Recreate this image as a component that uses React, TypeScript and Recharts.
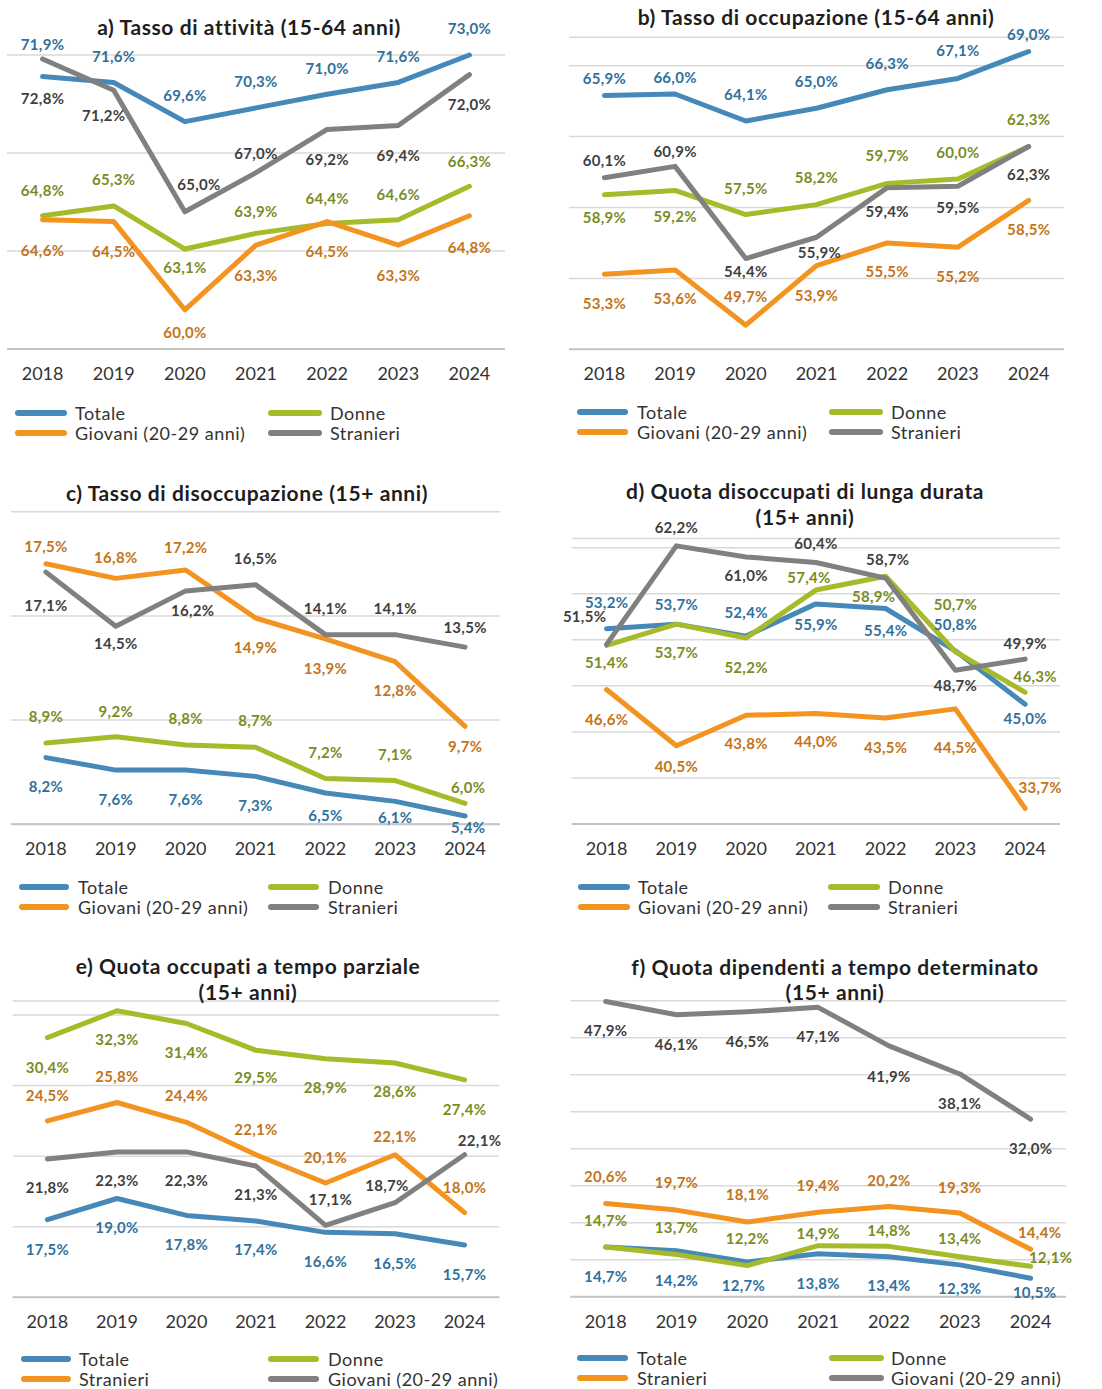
import React from 'react';
import { LineChart, Line, XAxis, YAxis, CartesianGrid, LabelList } from 'recharts';

const FONT = "Lato, 'Open Sans', sans-serif";

const years = ['2018', '2019', '2020', '2021', '2022', '2023', '2024'];

// a) Tasso di attività (15-64 anni)
const aTotale = [71.9, 71.6, 69.6, 70.3, 71.0, 71.6, 73.0];
const aDonne = [64.8, 65.3, 63.1, 63.9, 64.4, 64.6, 66.3];
const aGiovani = [64.6, 64.5, 60.0, 63.3, 64.5, 63.3, 64.8];
const aStranieri = [72.8, 71.2, 65.0, 67.0, 69.2, 69.4, 72.0];
const aTicks = [58, 63, 68, 73];

// b) Tasso di occupazione (15-64 anni)
const bTotale = [65.9, 66.0, 64.1, 65.0, 66.3, 67.1, 69.0];
const bDonne = [58.9, 59.2, 57.5, 58.2, 59.7, 60.0, 62.3];
const bGiovani = [53.3, 53.6, 49.7, 53.9, 55.5, 55.2, 58.5];
const bStranieri = [60.1, 60.9, 54.4, 55.9, 59.4, 59.5, 62.3];
const bTicks = [48, 53, 58, 63, 68];

// c) Tasso di disoccupazione (15+ anni)
const cTotale = [8.2, 7.6, 7.6, 7.3, 6.5, 6.1, 5.4];
const cDonne = [8.9, 9.2, 8.8, 8.7, 7.2, 7.1, 6.0];
const cGiovani = [17.5, 16.8, 17.2, 14.9, 13.9, 12.8, 9.7];
const cStranieri = [17.1, 14.5, 16.2, 16.5, 14.1, 14.1, 13.5];
const cTicks = [5, 10, 15, 20];

// d) Quota disoccupati di lunga durata (15+ anni)
const dTotale = [53.2, 53.7, 52.4, 55.9, 55.4, 50.8, 45.0];
const dDonne = [51.4, 53.7, 52.2, 57.4, 58.9, 50.7, 46.3];
const dGiovani = [46.6, 40.5, 43.8, 44.0, 43.5, 44.5, 33.7];
const dStranieri = [51.5, 62.2, 61.0, 60.4, 58.7, 48.7, 49.9];
const dTicks = [32, 37, 42, 47, 52, 57, 62];

// e) Quota occupati a tempo parziale (15+ anni)
const eTotale = [17.5, 19.0, 17.8, 17.4, 16.6, 16.5, 15.7];
const eDonne = [30.4, 32.3, 31.4, 29.5, 28.9, 28.6, 27.4];
const eStranieri = [24.5, 25.8, 24.4, 22.1, 20.1, 22.1, 18.0];
const eGiovani = [21.8, 22.3, 22.3, 21.3, 17.1, 18.7, 22.1];
const eTicks = [12, 17, 22, 27, 32];

// f) Quota dipendenti a tempo determinato (15+ anni)
const fTotale = [14.7, 14.2, 12.7, 13.8, 13.4, 12.3, 10.5];
const fDonne = [14.7, 13.7, 12.2, 14.9, 14.8, 13.4, 12.1];
const fStranieri = [20.6, 19.7, 18.1, 19.4, 20.2, 19.3, 14.4];
const fGiovani = [47.9, 46.1, 46.5, 47.1, 41.9, 38.1, 32.0];
const fTicks = [8, 13, 18, 23, 28, 33, 38, 43, 48];

// colours
const BLUE = '#4689B8';
const GREEN = '#A6BA2A';
const ORANGE = '#F39320';
const GRAY = '#808080';
const BLUE_L = '#31709C';
const GREEN_L = '#7A8C1F';
const ORANGE_L = '#C2741A';
const GRAY_L = '#3F3F3F';

type Series = {
  name: string;
  values: number[];
  color: string;
  labelColor: string;
  dy: number[];
  dx?: number[];
};

type Panel = {
  left: number;
  top: number;
  plotLeft: number;
  plotRight: number;
  plotTop: number;
  plotBottom: number;
  domain: [number, number];
  ticks: number[];
  title: string[];
  titleX: number;
  titleY: number[];
  series: Series[];
  legend: Series[][];
  legRows: number[];
  legCol1: [number, number, number];
  legCol2: [number, number, number];
};

const fmt = (v: number) => v.toFixed(1).replace('.', ',') + '%';

const mk = (name: string, values: number[], color: string, labelColor: string, dy: number[], dx?: number[]): Series => ({
  name, values, color, labelColor, dy, dx,
});

const sA = {
  tot: mk('Totale', aTotale, BLUE, BLUE_L, [-33, -26, -27, -27, -26, -26, -27]),
  don: mk('Donne', aDonne, GREEN, GREEN_L, [-26, -27, 18, -22, -26, -26, -25]),
  gio: mk('Giovani (20-29 anni)', aGiovani, ORANGE, ORANGE_L, [30, 29, 22, 30, 29, 30, 31]),
  str: mk('Stranieri', aStranieri, GRAY, GRAY_L, [39, 25, -28, -20, 30, 29, 29], [0, -10, 14, 0, 0, 0, 0]),
};
const sB = {
  tot: mk('Totale', bTotale, BLUE, BLUE_L, [-17, -17, -27, -27, -27, -28, -17]),
  don: mk('Donne', bDonne, GREEN, GREEN_L, [22, 26, -27, -28, -28, -27, -27]),
  gio: mk('Giovani (20-29 anni)', bGiovani, ORANGE, ORANGE_L, [29, 28, -29, 29, 28, 29, 29]),
  str: mk('Stranieri', bStranieri, GRAY, GRAY_L, [-18, -15, 12, 15, 23, 21, 28], [0, 0, 0, 3, 0, 0, 0]),
};
const sC = {
  tot: mk('Totale', cTotale, BLUE, BLUE_L, [28, 29, 29, 29, 22, 16, 11], [0, 0, 0, 0, 0, 0, 3]),
  don: mk('Donne', cDonne, GREEN, GREEN_L, [-27, -26, -27, -27, -26, -27, -16], [0, 0, 0, 0, 0, 0, 3]),
  gio: mk('Giovani (20-29 anni)', cGiovani, ORANGE, ORANGE_L, [-18, -21, -23, 29, 29, 28, 20]),
  str: mk('Stranieri', cStranieri, GRAY, GRAY_L, [33, 17, 19, -27, -27, -27, -20], [0, 0, 7, 0, 0, 0, 0]),
};
const sD = {
  tot: mk('Totale', dTotale, BLUE, BLUE_L, [-27, -20, -24, 20, 22, -27, 14]),
  don: mk('Donne', dDonne, GREEN, GREEN_L, [17, 28, 29, -13, 20, -48, -16], [0, 0, 0, -7, -12, 0, 10]),
  gio: mk('Giovani (20-29 anni)', dGiovani, ORANGE, ORANGE_L, [29, 20, 28, 28, 29, 38, -21], [0, 0, 0, 0, 0, 0, 15]),
  str: mk('Stranieri', dStranieri, GRAY, GRAY_L, [-28, -19, 18, -19, -19, 15, -16], [-22, 0, 0, 0, 2, 0, 0]),
};
const sE = {
  tot: mk('Totale', eTotale, BLUE, BLUE_L, [29, 29, 29, 28, 29, 29, 29]),
  don: mk('Donne', eDonne, GREEN, GREEN_L, [29, 28, 29, 27, 28, 28, 29]),
  str: mk('Stranieri', eStranieri, ORANGE, ORANGE_L, [-26, -27, -27, -26, -26, -19, -26]),
  gio: mk('Giovani (20-29 anni)', eGiovani, GRAY, GRAY_L, [28, 28, 28, 28, -26, -18, -15], [0, 0, 0, 0, 5, -8, 15]),
};
const sF = {
  tot: mk('Totale', fTotale, BLUE, BLUE_L, [29, 29, 23, 29, 28, 23, 14], [0, 0, -4, 0, 0, 0, 4]),
  don: mk('Donne', fDonne, GREEN, GREEN_L, [-27, -28, -28, -13, -16, -19, -9], [0, 0, 0, 0, 0, 0, 20]),
  str: mk('Stranieri', fStranieri, ORANGE, ORANGE_L, [-27, -28, -28, -27, -26, -26, -17], [0, 0, 0, 0, 0, 0, 9]),
  gio: mk('Giovani (20-29 anni)', fGiovani, GRAY, GRAY_L, [29, 29, 29, 29, 30, 29, 29]),
};

const panels: Panel[] = [
  {
    left: 0, top: 0, plotLeft: 7, plotRight: 505, plotTop: 55, plotBottom: 349,
    domain: [58, 73], ticks: aTicks,
    title: ['a) Tasso di attività (15-64 anni)'], titleX: 249, titleY: [27],
    series: [sA.tot, sA.don, sA.gio, sA.str],
    legend: [[sA.tot, sA.don], [sA.gio, sA.str]],
    legRows: [413, 433], legCol1: [15, 67, 75], legCol2: [268, 322, 330],
  },
  {
    left: 551, top: 0, plotLeft: 18, plotRight: 513, plotTop: 37.3, plotBottom: 349.3,
    domain: [48, 70], ticks: bTicks,
    title: ['b) Tasso di occupazione (15-64 anni)'], titleX: 816, titleY: [17],
    series: [sB.tot, sB.don, sB.gio, sB.str],
    legend: [[sB.tot, sB.don], [sB.gio, sB.str]],
    legRows: [412, 432], legCol1: [577, 628, 637], legCol2: [829, 883, 891],
  },
  {
    left: 0, top: 470, plotLeft: 11, plotRight: 500, plotTop: 41.7, plotBottom: 354.3,
    domain: [5, 20], ticks: cTicks,
    title: ['c) Tasso di disoccupazione (15+ anni)'], titleX: 247, titleY: [493],
    series: [sC.tot, sC.don, sC.gio, sC.str],
    legend: [[sC.tot, sC.don], [sC.gio, sC.str]],
    legRows: [887, 907], legCol1: [19, 69, 78], legCol2: [268, 319, 328],
  },
  {
    left: 551, top: 470, plotLeft: 20.7, plotRight: 509, plotTop: 68.5, plotBottom: 354,
    domain: [32, 63], ticks: dTicks,
    title: ['d) Quota disoccupati di lunga durata', '(15+ anni)'], titleX: 805, titleY: [491, 517],
    series: [sD.tot, sD.don, sD.gio, sD.str],
    legend: [[sD.tot, sD.don], [sD.gio, sD.str]],
    legRows: [887, 907], legCol1: [578, 630, 638], legCol2: [828, 880, 888],
  },
  {
    left: 0, top: 940, plotLeft: 12.7, plotRight: 499.3, plotTop: 60.9, plotBottom: 357.3,
    domain: [12, 33], ticks: eTicks,
    title: ['e) Quota occupati a tempo parziale', '(15+ anni)'], titleX: 248, titleY: [966, 992],
    series: [sE.tot, sE.don, sE.str, sE.gio],
    legend: [[sE.tot, sE.don], [sE.str, sE.gio]],
    legRows: [1359, 1379], legCol1: [21, 71, 79], legCol2: [268, 319, 328],
  },
  {
    left: 551, top: 940, plotLeft: 19.3, plotRight: 515, plotTop: 60.7, plotBottom: 356.7,
    domain: [8, 48], ticks: fTicks,
    title: ['f) Quota dipendenti a tempo determinato', '(15+ anni)'], titleX: 835, titleY: [967, 992],
    series: [sF.tot, sF.don, sF.str, sF.gio],
    legend: [[sF.tot, sF.don], [sF.str, sF.gio]],
    legRows: [1358, 1378], legCol1: [577, 628, 637], legCol2: [829, 884, 891],
  },
];

const PANEL_W = 551;
const XAXIS_H = 50;

function makeLabel(s: Series) {
  return (props: any) => {
    const { x, y, value, index } = props;
    if (x == null || y == null || value == null) return null;
    const dx = s.dx ? s.dx[index] : 0;
    const dy = s.dy[index];
    return (
      <text
        key={`l-${index}`}
        x={Number(x) + dx}
        y={Number(y) + dy}
        textAnchor="middle"
        dominantBaseline="central"
        fill={s.labelColor}
        fontSize={15}
        fontWeight={700}
        letterSpacing={0.3}
        fontFamily={FONT}
      >
        {fmt(Number(value))}
      </text>
    );
  };
}

const YearTick = (props: any) => {
  const { x, y, payload } = props;
  return (
    <text x={x} y={Number(y) + 24} textAnchor="middle" dominantBaseline="central" fill="#333" fontSize={18} fontFamily={FONT}>
      {payload.value}
    </text>
  );
};

function PanelChart({ p }: { p: Panel }) {
  const data = years.map((yr, i) => {
    const row: any = { year: yr };
    p.series.forEach((s, k) => {
      row[`s${k}`] = s.values[i];
    });
    return row;
  });
  const plotW = p.plotRight - p.plotLeft;
  const pad = plotW / 14;
  const height = p.plotBottom + XAXIS_H;
  return (
    <div style={{ position: 'absolute', left: p.left, top: p.top, width: PANEL_W, height }}>
      <LineChart
        width={PANEL_W}
        height={height}
        data={data}
        margin={{ top: p.plotTop, left: p.plotLeft, right: PANEL_W - p.plotRight, bottom: 0 }}
      >
        <CartesianGrid vertical={false} stroke="#d9d9d9" strokeWidth={1.5} />
        <XAxis
          dataKey="year"
          height={XAXIS_H}
          padding={{ left: pad, right: pad }}
          tickLine={false}
          tickSize={0}
          tickMargin={0}
          axisLine={{ stroke: '#c4c4c4', strokeWidth: 2 }}
          tick={<YearTick />}
          interval={0}
        />
        <YAxis hide domain={p.domain} ticks={p.ticks} type="number" allowDataOverflow={false} />
        {p.series.map((s, k) => (
          <Line
            key={s.name}
            dataKey={`s${k}`}
            name={s.name}
            type="linear"
            stroke={s.color}
            strokeWidth={5}
            strokeLinecap="round"
            strokeLinejoin="round"
            dot={false}
            activeDot={false}
            isAnimationActive={false}
          >
            <LabelList dataKey={`s${k}`} content={makeLabel(s)} />
          </Line>
        ))}
      </LineChart>
    </div>
  );
}

function Titles({ p }: { p: Panel }) {
  return (
    <>
      {p.title.map((t, i) => (
        <div
          key={i}
          style={{
            position: 'absolute',
            left: p.titleX - 275,
            width: 550,
            top: p.titleY[i] - 13,
            height: 26,
            lineHeight: '26px',
            textAlign: 'center',
            fontFamily: FONT,
            fontWeight: 700,
            fontSize: 21,
            letterSpacing: 0.6,
            color: '#1e1e1e',
            whiteSpace: 'nowrap',
          }}
        >
          {t}
        </div>
      ))}
    </>
  );
}

function LegendBlock({ p }: { p: Panel }) {
  const items: any[] = [];
  p.legend.forEach((row, r) => {
    row.forEach((s, c) => {
      const col = c === 0 ? p.legCol1 : p.legCol2;
      const yc = p.legRows[r];
      items.push(
        <div key={`m${r}${c}`} style={{ position: 'absolute', left: col[0], top: yc - 3, width: col[1] - col[0], height: 6, borderRadius: 3, background: s.color }} />,
      );
      items.push(
        <div
          key={`t${r}${c}`}
          style={{
            position: 'absolute',
            left: col[2],
            top: yc - 9,
            height: 18,
            lineHeight: '18px',
            fontFamily: FONT,
            fontSize: 18,
            letterSpacing: 0.5,
            color: '#333',
            whiteSpace: 'nowrap',
          }}
        >
          {s.name}
        </div>,
      );
    });
  });
  return <>{items}</>;
}

export default function App() {
  return (
    <div style={{ position: 'absolute', left: 0, top: 0, width: 1102, height: 1389, background: '#fff', overflow: 'hidden' }}>
      {panels.map((p, i) => (
        <React.Fragment key={i}>
          <PanelChart p={p} />
          <Titles p={p} />
          <LegendBlock p={p} />
        </React.Fragment>
      ))}
    </div>
  );
}
